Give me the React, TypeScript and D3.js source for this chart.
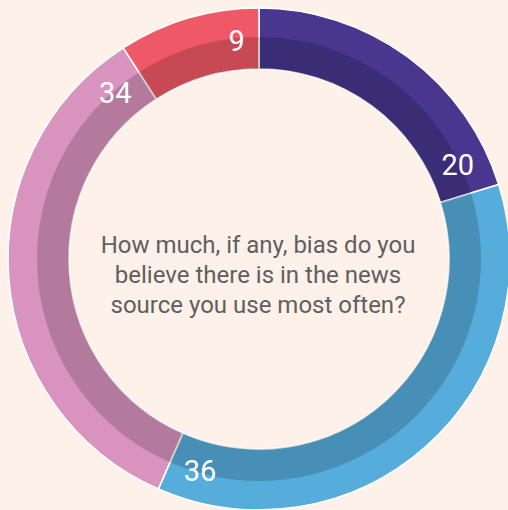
import React from "react";
import * as d3 from "d3";

// values read clockwise from 12 o'clock
const labels: string[] = ["a", "b", "c", "d"];
const values: number[] = [20, 36, 34, 9];
const colors: string[] = ["#48368F", "#56ACDB", "#D893BF", "#EF5866"];
const question: string[] = [
  "How much, if any, bias do you",
  "believe there is in the news",
  "source you use most often?",
];

const W = 508;
const H = 510;
const cx = 259;
const cy = 259;
const rOuter = 251;
const rBand = 222;
const rInner = 190;

const App: React.FC = () => {
  const pie = d3
    .pie<number>()
    .sort(null)
    .value((d) => d)
    .startAngle(0)
    .endAngle(2 * Math.PI);
  const arcs = pie(values);

  const arc = d3.arc<d3.PieArcDatum<number>>().innerRadius(rInner).outerRadius(rOuter);
  const band = d3
    .arc()
    .innerRadius(rInner)
    .outerRadius(rBand)
    .startAngle(0)
    .endAngle(2 * Math.PI);

  const labelR = 220;

  return (
    <svg
      width={W}
      height={H}
      style={{ position: "absolute", left: 0, top: 0 }}
    >
      <rect width={W} height={H} fill="#FDF1EA" />
      <g transform={`translate(${cx},${cy})`}>
        {arcs.map((a, i) => (
          <path
            key={labels[i]}
            d={arc(a) || ""}
            fill={colors[i]}
            stroke="#fff"
            strokeWidth={1.6}
          />
        ))}
        <path d={(band as any)() || ""} fill="#000" fillOpacity={0.17} />
        {arcs.map((a, i) => {
          const txt = String(values[i]);
          const back = (14 + txt.length * 8.5) / labelR;
          const ang = a.endAngle - back;
          const x = Math.sin(ang) * labelR;
          const y = -Math.cos(ang) * labelR;
          return (
            <text
              key={"l" + labels[i]}
              x={x}
              y={y}
              dy="0.36em"
              textAnchor="middle"
              fill="#fff"
              fontFamily="Roboto, sans-serif"
              fontWeight={400}
              fontSize={29}
            >
              {txt}
            </text>
          );
        })}
        <text
          textAnchor="middle"
          fill="#5f5f5f"
          fontFamily="Roboto, sans-serif"
          fontSize={24}
        >
          {question.map((q, i) => (
            <tspan key={i} x={-1} y={-6 + i * 30}>
              {q}
            </tspan>
          ))}
        </text>
      </g>
    </svg>
  );
};

export default App;
